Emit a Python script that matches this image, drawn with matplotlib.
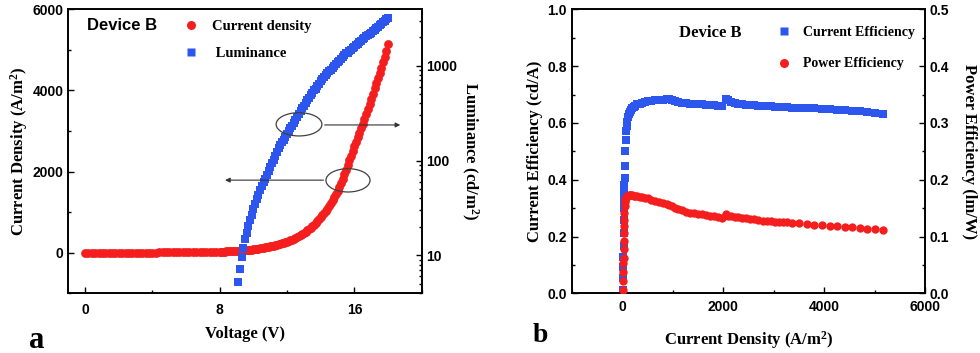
import numpy as np
import matplotlib
matplotlib.use("Agg")
import matplotlib.pyplot as plt
from matplotlib.lines import Line2D
from matplotlib.patches import Ellipse
from matplotlib.ticker import MultipleLocator, FuncFormatter, LogLocator

plt.rcParams['mathtext.fontset'] = 'custom'
plt.rcParams['mathtext.rm'] = 'Liberation Serif:bold'
plt.rcParams['mathtext.default'] = 'rm'

# === data: panel a (J-V-L) ===
volt_low = [0.0, 0.2, 0.4, 0.6, 0.8, 1.0, 1.2, 1.4, 1.6, 1.8, 2.0, 2.2, 2.4, 2.6, 2.8,
            3.0, 3.2, 3.4, 3.6, 3.8, 4.0, 4.2, 4.4, 4.6, 4.8, 5.0, 5.2, 5.4, 5.6, 5.8,
            6.0, 6.2, 6.4, 6.6, 6.8, 7.0, 7.2, 7.4, 7.6, 7.8]
curr_low = [0, 0, 0, 0, 0, 1, 1, 1, 1, 1, 2, 2, 2, 3, 3,
            3, 4, 4, 5, 5, 6, 6, 7, 8, 8, 9, 10, 11, 12, 13,
            14, 15, 16, 17, 18, 19, 20, 21, 22, 23]
volt_high = [round(8.0 + 0.1 * i, 1) for i in range(101)]
curr_high = [25, 27, 29, 31, 33, 35, 37, 40, 42, 45,
             48, 51, 54, 57, 60, 63, 67, 71, 75, 80,
             85, 90, 96, 102, 108, 115, 122, 130, 138, 146,
             155, 164, 174, 184, 194, 205, 217, 229, 242, 256,
             270, 286, 303, 321, 340, 360, 383, 408, 434, 461,
             490, 520, 550, 582, 615, 650, 690, 730, 775, 820,
             870, 922, 976, 1030, 1090, 1150, 1220, 1290, 1365, 1445,
             1530, 1620, 1720, 1825, 1935, 2050, 2165, 2280, 2395, 2510,
             2625, 2740, 2850, 2960, 3070, 3180, 3300, 3420, 3545, 3670,
             3800, 3925, 4050, 4175, 4300, 4430, 4560, 4690, 4830, 4985,
             5150]
voltage = volt_low + volt_high
current_density = curr_low + curr_high

lum_volt = [round(9.1 + 0.1 * i, 1) for i in range(90)]
luminance = [5.2, 7.2, 9.5, 12.0, 14.8, 17.4, 20.4, 23.4, 26.9, 30.9,
             34.7, 38.9, 43.6, 49.0, 53.7, 58.9, 64.6, 70.8, 77.6, 85.1,
             93.3, 102, 112, 123, 135, 145, 155, 166, 178, 191,
             204, 219, 234, 251, 269, 288, 309, 331, 355, 380,
             407, 437, 457, 490, 513, 550, 575, 617, 646, 692,
             724, 759, 794, 832, 871, 912, 955, 1000, 1047, 1096,
             1122, 1175, 1230, 1288, 1349, 1380, 1445, 1479, 1549, 1585,
             1660, 1698, 1778, 1820, 1905, 1950, 2042, 2089, 2188, 2239,
             2344, 2399, 2512, 2570, 2692, 2754, 2884, 2951, 3090, 3162]

# === data: panel b (efficiencies) ===
eff_j = [18, 20, 22, 24, 26, 28, 31, 34, 37, 41, 45, 50, 56, 63, 71, 80, 90, 102,
         116, 132, 150, 172, 198, 228, 262, 300, 345, 395, 450, 510, 575, 645,
         720, 800, 880, 930, 980, 1040, 1110, 1180, 1260, 1340, 1420, 1500,
         1580, 1660, 1740, 1820, 1900, 1970, 2050, 2100, 2160, 2230, 2300,
         2380, 2460, 2540, 2620, 2700, 2780, 2860, 2940, 3020, 3100, 3180,
         3260, 3360, 3510, 3660, 3810, 3960, 4110, 4260, 4410, 4560, 4710,
         4860, 5010, 5160]
cur_eff = [0.012, 0.053, 0.094, 0.129, 0.165, 0.212, 0.259, 0.300, 0.330, 0.355,
           0.382, 0.406, 0.450, 0.500, 0.540, 0.570, 0.590, 0.605, 0.620, 0.630,
           0.638, 0.645, 0.651, 0.656, 0.661, 0.665, 0.668, 0.671, 0.674, 0.676,
           0.678, 0.680, 0.681, 0.682, 0.683, 0.686, 0.680, 0.676, 0.673, 0.671,
           0.669, 0.668, 0.667, 0.666, 0.665, 0.664, 0.663, 0.662, 0.661, 0.660,
           0.686, 0.680, 0.675, 0.671, 0.668, 0.666, 0.664, 0.663, 0.662, 0.661,
           0.660, 0.659, 0.658, 0.657, 0.656, 0.656, 0.655, 0.654, 0.653, 0.652,
           0.651, 0.650, 0.648, 0.647, 0.645, 0.643, 0.641, 0.638, 0.635, 0.631]
pow_eff = [0.006, 0.022, 0.038, 0.053, 0.062, 0.078, 0.093, 0.106, 0.118, 0.129,
           0.141, 0.153, 0.160, 0.165, 0.168, 0.170, 0.171, 0.172, 0.172, 0.173,
           0.173, 0.173, 0.173, 0.172, 0.172, 0.171, 0.170, 0.169, 0.168, 0.167,
           0.165, 0.163, 0.161, 0.159, 0.157, 0.155, 0.153, 0.150, 0.148, 0.146,
           0.144, 0.142, 0.141, 0.140, 0.139, 0.138, 0.137, 0.136, 0.135, 0.133,
           0.139, 0.137, 0.136, 0.135, 0.134, 0.133, 0.132, 0.131, 0.130, 0.129,
           0.128, 0.128, 0.127, 0.126, 0.126, 0.125, 0.125, 0.124, 0.123, 0.122,
           0.121, 0.120, 0.119, 0.118, 0.117, 0.116, 0.115, 0.114, 0.113, 0.111]

RED = '#F41E1E'
BLUE = '#2C56EE'
serif = 'Liberation Serif'
sans = 'Liberation Sans'

fig = plt.figure(figsize=(9.8, 3.53), dpi=100)
ax = fig.add_axes([0.0697, 0.169, 0.3606, 0.8046])
bx = fig.add_axes([0.5834, 0.169, 0.3605, 0.8046])


def style_axis(a):
    for s in a.spines.values():
        s.set_linewidth(1.2)
    a.tick_params(which='both', direction='in', width=1.0, top=False)
    a.tick_params(which='major', length=4.3)
    a.tick_params(which='minor', length=2.4)
    for lab in a.get_xticklabels() + a.get_yticklabels():
        lab.set_fontfamily(sans)
        lab.set_fontweight('bold')
        lab.set_fontsize(10)


# --- panel a ---
ax.scatter(voltage, current_density, s=40, marker='o', color=RED, linewidths=0, zorder=3)
ax.set_xlim(-1, 20)
ax.set_ylim(-1000, 6000)
ax.xaxis.set_major_locator(MultipleLocator(8))
ax.xaxis.set_minor_locator(MultipleLocator(4))
ax.yaxis.set_major_locator(MultipleLocator(2000))
ax.yaxis.set_minor_locator(MultipleLocator(1000))
ax.tick_params(right=False)
style_axis(ax)
ax.tick_params(axis='x', pad=7)
ax.set_xlabel('Voltage (V)', fontfamily=serif, fontweight='bold', fontsize=12, labelpad=6.5)
ax.set_ylabel('Current Density (A/m$^2$)', fontfamily=serif, fontweight='bold', fontsize=12, labelpad=2)

ax2 = ax.twinx()
ax2.scatter(lum_volt, luminance, s=28, marker='s', color=BLUE, linewidths=0, zorder=3)
ax2.set_yscale('log')
ax2.set_ylim(3.97, 3940)
ax2.yaxis.set_major_locator(LogLocator(base=10))
ax2.yaxis.set_minor_locator(LogLocator(base=10, subs=np.arange(2, 10)))
ax2.yaxis.set_major_formatter(FuncFormatter(lambda v, p: f'{v:g}'))
style_axis(ax2)
ax2.set_ylabel('Luminance (cd/m$^2$)', fontfamily=serif, fontweight='bold', fontsize=12,
               rotation=270, labelpad=16)

# ellipses + arrows (drawn in current-density coords)
ax2.add_patch(Ellipse((12.71, 3166), 2.72, 574, transform=ax.transData,
                      fill=False, ec='#404040', lw=0.9, zorder=5))
ax2.add_patch(Ellipse((15.62, 1785), 2.62, 574, transform=ax.transData,
                      fill=False, ec='#404040', lw=0.9, zorder=5))
ax2.annotate('', xy=(18.89, 3150), xytext=(14.07, 3150), xycoords=ax.transData,
             textcoords=ax.transData,
             arrowprops=dict(arrowstyle='-|>', color='#333333', lw=0.8, mutation_scale=7))
ax2.annotate('', xy=(8.15, 1790), xytext=(14.33, 1790), xycoords=ax.transData,
             textcoords=ax.transData,
             arrowprops=dict(arrowstyle='-|>', color='#333333', lw=0.8, mutation_scale=7))

ax2.text(0.052, 0.942, 'Device B', transform=ax.transAxes, fontfamily=sans,
         fontweight='bold', fontsize=12, va='center', ha='left')
leg_a = [Line2D([], [], ls='none', marker='o', color=RED, ms=6.5, mec='none'),
         Line2D([], [], ls='none', marker='s', color=BLUE, ms=5.2, mec='none')]
ax2.legend(leg_a, ['Current density', ' Luminance'], loc='upper left',
           bbox_to_anchor=(0.327, 0.963), frameon=False, handlelength=1.0,
           handletextpad=0.9, labelspacing=0.95, borderpad=0, borderaxespad=0,
           prop=dict(family=serif, weight='bold', size=10.5))

fig.text(0.037, 0.015, 'a', fontfamily=serif, fontweight='bold', fontsize=22, ha='center')

# --- panel b ---
bx.scatter(eff_j, cur_eff, s=28, marker='s', color=BLUE, linewidths=0, zorder=3)
bx.set_xlim(-1000, 6000)
bx.set_ylim(0, 1.0)
bx.xaxis.set_major_locator(MultipleLocator(2000))
bx.xaxis.set_minor_locator(MultipleLocator(1000))
bx.yaxis.set_major_locator(MultipleLocator(0.2))
bx.yaxis.set_minor_locator(MultipleLocator(0.1))
bx.yaxis.set_major_formatter(FuncFormatter(lambda v, p: f'{v:.1f}'))
bx.tick_params(right=False)
style_axis(bx)
bx.tick_params(axis='x', pad=5)
bx.set_xlabel('Current Density (A/m$^2$)', fontfamily=serif, fontweight='bold', fontsize=12, labelpad=10.5)
bx.set_ylabel('Current Efficiency (cd/A)', fontfamily=serif, fontweight='bold', fontsize=12, labelpad=3)

bx2 = bx.twinx()
bx2.scatter(eff_j, pow_eff, s=36, marker='o', color=RED, linewidths=0, zorder=3)
bx2.set_ylim(0, 0.5)
bx2.yaxis.set_major_locator(MultipleLocator(0.1))
bx2.yaxis.set_minor_locator(MultipleLocator(0.05))
bx2.yaxis.set_major_formatter(FuncFormatter(lambda v, p: f'{v:.1f}'))
style_axis(bx2)
bx2.set_ylabel('Power Efficiency (lm/W)', fontfamily=serif, fontweight='bold', fontsize=12,
               rotation=270, labelpad=20)

bx2.text(0.303, 0.915, 'Device B', transform=bx.transAxes, fontfamily=serif,
         fontweight='bold', fontsize=12, va='center', ha='left')
leg_b = [Line2D([], [], ls='none', marker='s', color=BLUE, ms=5.4, mec='none'),
         Line2D([], [], ls='none', marker='o', color=RED, ms=6.5, mec='none')]
bx2.legend(leg_b, ['Current Efficiency', 'Power Efficiency'], loc='upper left',
           bbox_to_anchor=(0.581, 0.94), frameon=False, handlelength=1.0,
           handletextpad=0.85, labelspacing=1.3, borderpad=0, borderaxespad=0,
           prop=dict(family=serif, weight='bold', size=10))

fig.text(0.551, 0.03, 'b', fontfamily=serif, fontweight='bold', fontsize=20, ha='center')

fig.savefig('out.png', dpi=100)
